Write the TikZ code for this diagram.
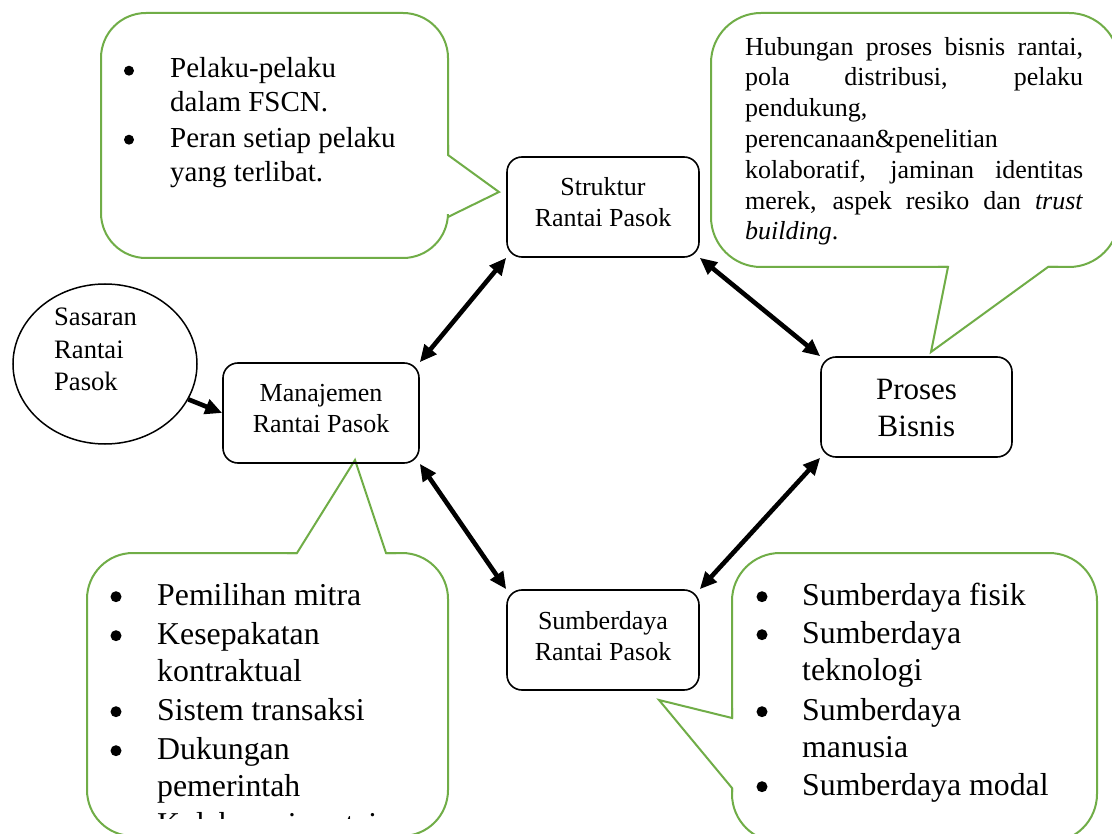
\documentclass[tikz,border=0pt]{standalone}
\usepackage{fontspec}
\setmainfont{Liberation Serif}
\usetikzlibrary{arrows.meta,shapes.geometric}
\definecolor{cgreen}{HTML}{70AD47}
\newcommand\setfs[2]{\fontsize{#1pt}{#2pt}\selectfont}
\begin{document}
\begin{tikzpicture}[x=1pt,y=-1pt,
  box/.style={draw, line width=1.6pt, rounded corners=15pt, inner sep=0pt, minimum height=100pt},
  btxt/.style={anchor=base, align=center, inner sep=0pt, font=\setfs{26}{31}},
  callout/.style={draw=cgreen, line width=2pt, fill=white, inner sep=0pt},
  ptr/.style={draw=cgreen, line width=2pt, line join=miter},
  ctxt/.style={anchor=base west, align=left, inner sep=0pt},
  bul/.style={fill=black, circle, inner sep=0pt, minimum size=10pt},
  arr/.style={line width=4.6pt, -{Triangle[length=17pt,width=15pt]}},
  darr/.style={line width=4.6pt, {Triangle[length=17pt,width=15pt]}-{Triangle[length=17pt,width=15pt]}},
]
\clip (0,0) rectangle (1112,834);
\fill[white] (0,0) rectangle (1112,834);

% ---- callouts ----
\node (tl) [callout, rounded corners=45pt, minimum width=347pt, minimum height=245pt] at (274.5,135.5) {};
\fill[white] (446,155) -- (450,155) -- (499,192) -- (450,214) -- (446,214) -- cycle;
\draw[ptr] (448,145) -- (448,155) -- (499,192) -- (448,217);

\node (tr) [callout, rounded corners=50pt, minimum width=408pt, minimum height=254pt] at (915,140) {};
\fill[white] (948,264) -- (1048,264) -- (1048,269) -- (931,352) -- (948,269) -- cycle;
\draw[ptr] (938,267) -- (948,267) -- (931,352) -- (1048,267) -- (1058,267);

\node (bl) [callout, rounded corners=46pt, minimum width=361pt, minimum height=283pt] at (267.5,694.5) {};
\fill[white] (297,551) -- (355,460) -- (386,551) -- (386,556) -- (297,556) -- cycle;
\draw[ptr] (287,553) -- (297,553) -- (355,460) -- (386,553) -- (396,553);

\node (br) [callout, rounded corners=48pt, minimum width=365pt, minimum height=289pt] at (914.5,697.5) {};
\fill[white] (729,718) -- (659,700) -- (729,788) -- (735,788) -- (735,718) -- cycle;
\draw[ptr] (732,708) -- (732,718) -- (659,700) -- (732,788) -- (732,792);

% ---- callout texts (anchor = baseline of last line) ----
\node[bul] (tlb1) at (129,70.7) {};
\node[bul] (tlb2) at (129,139.7) {};
\node[ctxt, font=\setfs{29}{34.7}] (tl1) at (170,112) {Pelaku-pelaku\\dalam FSCN.};
\node[ctxt, font=\setfs{29}{34.7}] (tl2) at (170,182) {Peran setiap pelaku\\yang terlibat.};

\node[ctxt, font=\setfs{26}{30.8}] (trt) at (745,240)
 {\makebox[338pt][s]{Hubungan proses bisnis rantai,}\\
  \makebox[338pt][s]{pola distribusi, pelaku}\\
  pendukung,\\
  perencanaan\&penelitian\\
  \makebox[338pt][s]{kolaboratif, jaminan identitas}\\
  \makebox[338pt][s]{merek, aspek resiko dan \textit{trust}}\\
  \textit{building}.};

\node[bul, minimum size=11pt] (blb1) at (116,596.7) {};
\node[bul, minimum size=11pt] (blb2) at (116,635.7) {};
\node[bul, minimum size=11pt] (blb3) at (116,711.7) {};
\node[bul, minimum size=11pt] (blb4) at (116,750.7) {};
\node[ctxt, font=\setfs{31.8}{37}] (bl1) at (157,605) {Pemilihan mitra};
\node[ctxt, font=\setfs{31.8}{37}] (bl2) at (157,681) {Kesepakatan\\kontraktual};
\node[ctxt, font=\setfs{31.8}{37}] (bl3) at (157,720) {Sistem transaksi};
\node[ctxt, font=\setfs{31.8}{37}] (bl4) at (157,796) {Dukungan\\pemerintah};
\begin{scope}
\clip (87,553) rectangle (448,818);
\node[ctxt, font=\setfs{31.8}{37}] (bl5) at (157,834) {Kolaborasi rantai};
\end{scope}

\node[bul, minimum size=11pt] (brb1) at (762,596.7) {};
\node[bul, minimum size=11pt] (brb2) at (762,634.7) {};
\node[bul, minimum size=11pt] (brb3) at (762,711.7) {};
\node[bul, minimum size=11pt] (brb4) at (762,786.7) {};
\node[ctxt, font=\setfs{31.8}{37}] (br1) at (802,605) {Sumberdaya fisik};
\node[ctxt, font=\setfs{31.8}{37}] (br2) at (802,680) {Sumberdaya\\teknologi};
\node[ctxt, font=\setfs{31.8}{37}] (br3) at (802,757) {Sumberdaya\\manusia};
\node[ctxt, font=\setfs{31.8}{37}] (br4) at (802,795) {Sumberdaya modal};

% ---- main boxes ----
\node (str) [box, minimum width=192pt] at (603,207) {};
\node (man) [box, minimum width=196pt] at (321,413) {};
\node (pro) [box, minimum width=191pt] at (916.5,407) {};
\node (sum) [box, minimum width=192pt] at (603,640) {};
\node (sas) [draw, ellipse, line width=1.5pt, minimum width=184pt, minimum height=160pt, inner sep=0pt] at (105,364) {};

\node[btxt] (strt) at (603,227) {Struktur\\Rantai Pasok};
\node[btxt] (mant) at (321,432) {Manajemen\\Rantai Pasok};
\node[btxt, font=\setfs{31}{37}] (prot) at (916.5,437) {Proses\\Bisnis};
\node[btxt] (sumt) at (603,660) {Sumberdaya\\Rantai Pasok};
\node[ctxt, font=\setfs{26.6}{32.5}] (sast) at (54,391) {Sasaran\\Rantai\\Pasok};

% ---- connectors ----
\draw[darr] (str.south west) -- (man.north east);
\draw[darr] (str.south east) -- (pro.north west);
\draw[darr] (man.south east) -- (sum.north west);
\draw[darr] (pro.south west) -- (sum.north east);
\draw[arr] (sas.-23) -- (man.west);
\end{tikzpicture}
\end{document}
